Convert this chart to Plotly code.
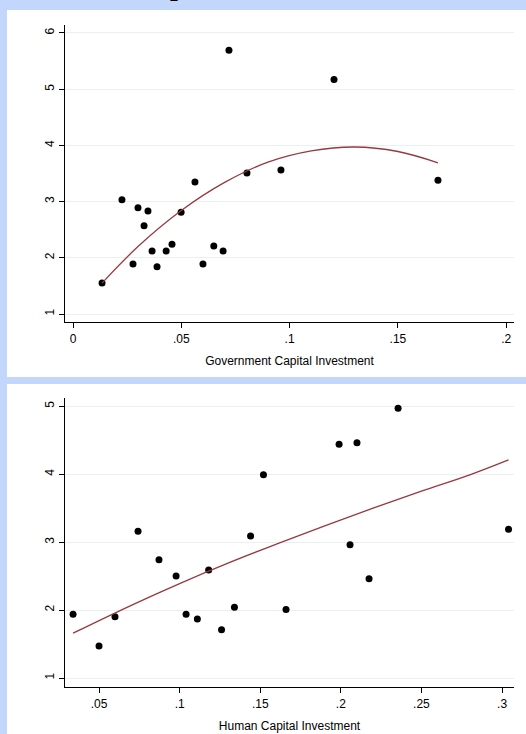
import plotly.graph_objects as go

W, H = 526, 734

# Government capital investment vs. outcome
gov_x = [0.0134, 0.0226, 0.0277, 0.0300, 0.0328, 0.0346, 0.0365, 0.0388, 0.0430, 0.0457,
         0.0499, 0.0563, 0.0600, 0.0650, 0.0693, 0.0720, 0.0803, 0.0960, 0.1205, 0.1685]
gov_y = [1.55, 3.03, 1.89, 2.89, 2.57, 2.83, 2.12, 1.84, 2.12, 2.24,
         2.81, 3.35, 1.89, 2.21, 2.12, 5.69, 3.51, 3.56, 5.17, 3.38]

# Quadratic fit line (fitted values)
gov_fit_x = [0.0134, 0.03, 0.05, 0.07, 0.09, 0.11, 0.13, 0.15, 0.1685]
gov_fit_y = [1.55, 2.20, 2.84, 3.34, 3.70, 3.90, 3.97, 3.89, 3.69]

# Human capital investment vs. outcome
hum_x = [0.0339, 0.0500, 0.0599, 0.0742, 0.0872, 0.0978, 0.1040, 0.1110, 0.1180, 0.1260,
         0.1340, 0.1440, 0.1520, 0.1660, 0.1989, 0.2100, 0.2057, 0.2175, 0.2355, 0.3040]
hum_y = [1.94, 1.47, 1.90, 3.16, 2.74, 2.50, 1.94, 1.87, 2.59, 1.71,
         2.04, 3.09, 3.99, 2.01, 4.44, 4.46, 2.96, 2.46, 4.97, 3.19]

hum_fit_x = [0.0339, 0.07, 0.10, 0.13, 0.16, 0.19, 0.22, 0.25, 0.28, 0.304]
hum_fit_y = [1.66, 2.07, 2.39, 2.69, 2.97, 3.24, 3.50, 3.75, 3.99, 4.21]

gov_ticks = [0, 0.05, 0.1, 0.15, 0.2]
gov_ticktext = ["0", ".05", ".1", ".15", ".2"]
hum_ticks = [0.05, 0.1, 0.15, 0.2, 0.25, 0.3]
hum_ticktext = [".05", ".1", ".15", ".2", ".25", ".3"]
gov_yticks = [1, 2, 3, 4, 5, 6]
hum_yticks = [1, 2, 3, 4, 5]

MARKER = "black"
FIT = "#963a40"
BG = "#c2d7fb"


def px_x(p):
    return p / W


def px_y(p):
    return 1 - p / H


fig = go.Figure()

fig.add_trace(go.Scatter(x=gov_x, y=gov_y, mode="markers", xaxis="x", yaxis="y",
                         marker=dict(color=MARKER, size=7), showlegend=False))
fig.add_trace(go.Scatter(x=gov_fit_x, y=gov_fit_y, mode="lines", xaxis="x", yaxis="y",
                         line=dict(color=FIT, width=1.3, shape="spline"), showlegend=False))
fig.add_trace(go.Scatter(x=hum_x, y=hum_y, mode="markers", xaxis="x2", yaxis="y2",
                         marker=dict(color=MARKER, size=7), showlegend=False))
fig.add_trace(go.Scatter(x=hum_fit_x, y=hum_fit_y, mode="lines", xaxis="x2", yaxis="y2",
                         line=dict(color=FIT, width=1.3, shape="spline"), showlegend=False))

# white panels on the blue page
shapes = [
    dict(type="rect", xref="paper", yref="paper", layer="below",
         x0=px_x(7), x1=1.0, y0=px_y(377), y1=px_y(10),
         fillcolor="white", line=dict(width=0)),
    dict(type="rect", xref="paper", yref="paper", layer="below",
         x0=px_x(7), x1=1.0, y0=0.0, y1=px_y(384),
         fillcolor="white", line=dict(width=0)),
]

font = dict(family="Liberation Sans, Arial, sans-serif", size=12, color="black")

xaxis_common = dict(showline=True, linecolor="black", linewidth=1.2, ticks="outside",
                    ticklen=5, tickwidth=1.2, tickcolor="black", showgrid=False,
                    zeroline=False, tickfont=font, title_font=font, mirror=False)
yaxis_common = dict(showline=True, linecolor="black", linewidth=1.2, ticks="outside",
                    ticklen=5, tickwidth=1.2, tickcolor="black", showgrid=True,
                    gridcolor="#e8f0f0", gridwidth=1, zeroline=False, tickfont=font,
                    tickangle=-90)

fig.update_layout(
    width=W, height=H, margin=dict(l=0, r=0, t=0, b=0),
    paper_bgcolor=BG, plot_bgcolor="rgba(0,0,0,0)",
    shapes=shapes, showlegend=False,
    xaxis=dict(xaxis_common, domain=[px_x(65), px_x(514)], anchor="y",
               range=[-0.0037, 0.2036], tickvals=gov_ticks, ticktext=gov_ticktext,
               title=dict(text="Government Capital Investment", standoff=12)),
    yaxis=dict(yaxis_common, domain=[px_y(322), px_y(25)], anchor="x",
               range=[0.858, 6.14], tickvals=gov_yticks),
    xaxis2=dict(xaxis_common, domain=[px_x(65), px_x(514)], anchor="y2",
                range=[0.0289, 0.3074], tickvals=hum_ticks, ticktext=hum_ticktext,
                title=dict(text="Human Capital Investment", standoff=12)),
    yaxis2=dict(yaxis_common, domain=[px_y(687), px_y(398)], anchor="x2",
                range=[0.868, 5.12], tickvals=hum_yticks),
    annotations=[
        dict(text="<b>p</b>", xref="paper", yref="paper", x=px_x(178), y=px_y(3),
             xanchor="center", yanchor="bottom", showarrow=False,
             font=dict(family="Liberation Serif, serif", size=28, color="black")),
    ],
)

fig.write_html("out.html")
